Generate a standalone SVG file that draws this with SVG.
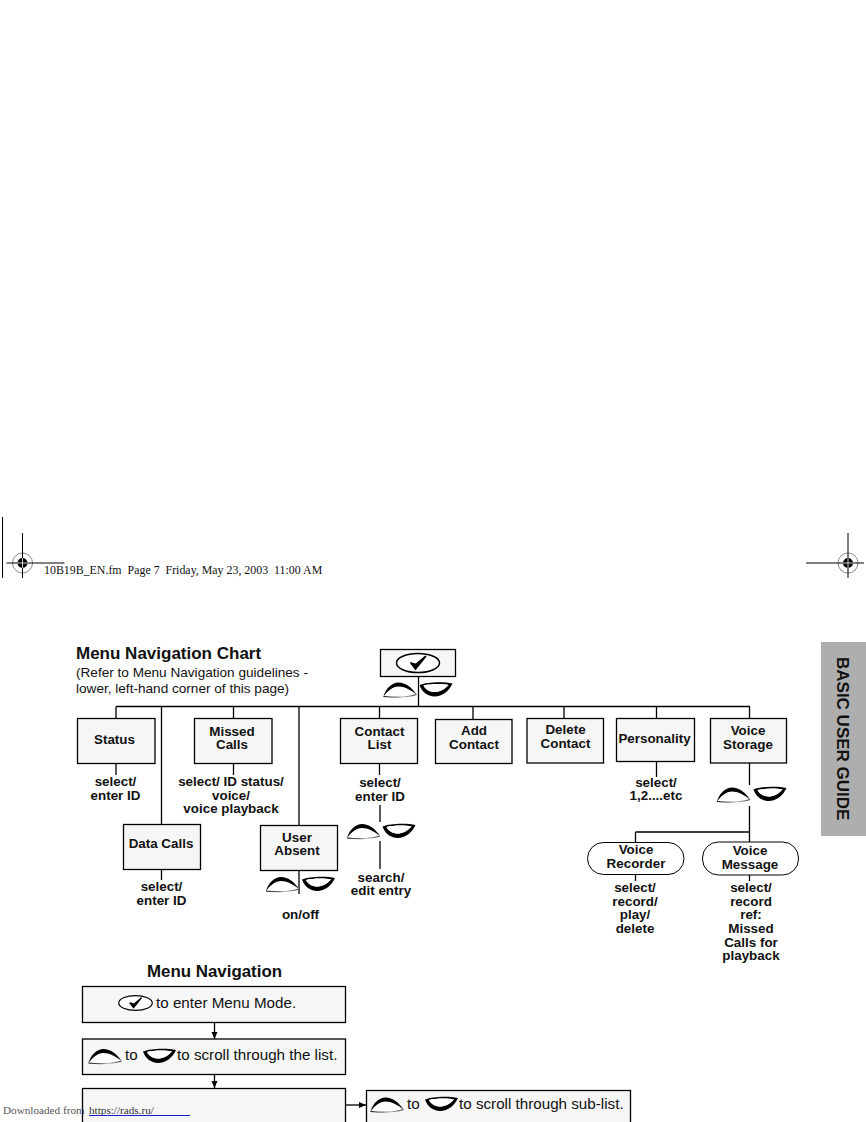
<svg xmlns="http://www.w3.org/2000/svg" width="866" height="1122" viewBox="0 0 866 1122">
<style>
text{font-family:"Liberation Sans",Arial,sans-serif;fill:#111}
.n{font-weight:700;font-size:13.4px;text-anchor:middle}
.b{fill:#f6f6f6;stroke:#000;stroke-width:1.3}
.l{fill:none;stroke:#000;stroke-width:1.3}
.c{fill:none;stroke:#000;stroke-width:1}
.g{font-size:13.6px}
.nav{font-size:15.2px}
.s{font-family:"Liberation Serif","Times New Roman",serif;font-size:11.9px}
.d{font-family:"Liberation Serif","Times New Roman",serif;font-size:11.2px}
</style>
<defs>
<linearGradient id="fade" x1="0" x2="1" y1="0" y2="0"><stop offset="0" stop-color="#000"/><stop offset=".6" stop-color="#bbb"/><stop offset="1" stop-color="#333"/></linearGradient>
<g id="up"><path d="M0 14.500C2 7 8 .5 15 .5C22 .5 29 6 33 12.500C25 15.500 8 15.500 0 14.500Z" fill="#fff"/><path d="M0 14.500C2 7 8 .5 15 .5C22 .5 29 6 33 12.500C27 8 21 4.500 15 4.500C9 4.500 4 9 0 14.500Z" fill="#000"/><path d="M0 14.500C10 15.500 23 15.500 33 12.500" fill="none" stroke="url(#fade)" stroke-width="1.200"/></g>
<g id="down"><path fill-rule="evenodd" d="M0 3.500C8 0 25 0 33 2C30 9 23 15 15 15C8 15 2 10 0 3.500ZM4 4C10 2.500 22 2 29 3.500C25 8 20 10.500 15 10.500C10 10.500 6 8 4 4Z" fill="#000"/><path d="M4 4C10 2.500 22 2 29 3.500C25 8 20 10.500 15 10.500C10 10.500 6 8 4 4Z" fill="#fff"/></g>
<g id="ok"><ellipse cx="0" cy="0" rx="21.500" ry="9.500" fill="#fff" stroke="#000" stroke-width="1.500"/><path d="M-7 0L-2.500 6L7.500 -6.500L-2 1.500Z" fill="#000" stroke="#000" stroke-width="1.800" stroke-linejoin="round"/></g>
<g id="reg"><circle r="10" fill="none" stroke="#888" stroke-width="1"/><circle r="5" fill="#000"/><path d="M-16 0H42M0 -30V15" stroke="#000" stroke-width="1" fill="none"/><path d="M-5 0H5M0 -5V5" stroke="#fff" stroke-width="0.800"/></g>
<marker id="ah" markerWidth="8" markerHeight="8" refX="7" refY="4" orient="auto" markerUnits="userSpaceOnUse"><path d="M0 1L7 4L0 7Z" fill="#000"/></marker>
</defs>

<g id="print-marks">
<path d="M2.500 517V578" class="c"/>
<use href="#reg" x="22.500" y="563"/>
<use href="#reg" x="848" y="563" transform="translate(1696 0) scale(-1 1)"/>
<text class="s" x="44" y="574" xml:space="preserve">10B19B_EN.fm  Page 7  Friday, May 23, 2003  11:00 AM</text>
</g>

<g id="side-tab"><rect x="821" y="642" width="45" height="194" fill="#aeaeae"/><text transform="translate(836.500 657) rotate(90)" font-weight="700" font-size="17px">BASIC USER GUIDE</text></g>

<text x="76" y="659" font-weight="700" font-size="17px">Menu Navigation Chart</text>
<text class="g" x="76" y="677">(Refer to Menu Navigation guidelines -</text>
<text class="g" x="76" y="693">lower, left-hand corner of this page)</text>

<g id="connectors">
<path class="l" d="M418.500 676V706.500M116 706.500H750M116 706.500V718M233.500 706.500V718M379.500 706.500V718M473 706.500V719M564 706.500V718M656.500 706.500V718M749.500 706.500V718M161.500 706.500V824M299 706.500V825"/>
<path class="l" d="M116 763V775M233.500 763V775M379.500 763V775M380 805V822M380 841V869M656.500 761V777M749.500 763V785M749.500 806V842M635.500 832H750M635.500 832V843M635.500 874V881M749.500 875V881M161.500 869V880M299 870V894"/>
<path class="l" d="M214.500 1022V1039" marker-end="url(#ah)"/>
<path class="l" d="M214.500 1074V1088" marker-end="url(#ah)"/>
<path class="l" d="M346 1105H366" marker-end="url(#ah)"/>
</g>

<g id="start"><rect class="b" x="380.500" y="649.500" width="75" height="27"/><use href="#ok" x="418" y="663"/></g>
<use href="#up" x="383.500" y="682"/><use href="#down" x="419.500" y="681.500"/>

<g id="status"><rect class="b" x="77.500" y="718.500" width="77.500" height="45"/><text class="n" x="114.500" y="744">Status</text></g>
<g id="missed"><rect class="b" x="194.500" y="718.500" width="77.500" height="45"/><text class="n" x="232" y="736">Missed</text><text class="n" x="232" y="749">Calls</text></g>
<g id="contact"><rect class="b" x="340.500" y="718.500" width="77" height="45"/><text class="n" x="379.500" y="736">Contact</text><text class="n" x="379.500" y="749">List</text></g>
<g id="add"><rect class="b" x="435.500" y="719.500" width="76.500" height="44"/><text class="n" x="474" y="735">Add</text><text class="n" x="474" y="749">Contact</text></g>
<g id="delete"><rect class="b" x="527" y="718.500" width="76.500" height="44.500"/><text class="n" x="565.500" y="734">Delete</text><text class="n" x="565.500" y="748">Contact</text></g>
<g id="personality"><rect class="b" x="616.500" y="718.500" width="78" height="43"/><text class="n" x="654.500" y="743">Personality</text></g>
<g id="storage"><rect class="b" x="710.500" y="718.500" width="76" height="44.500"/><text class="n" x="748" y="735">Voice</text><text class="n" x="748" y="749">Storage</text></g>
<g id="data"><rect class="b" x="123.500" y="824.500" width="77" height="45"/><text class="n" x="161" y="848">Data Calls</text></g>
<g id="absent"><rect class="b" x="260.500" y="825.500" width="77" height="45"/><text class="n" x="297" y="842">User</text><text class="n" x="297" y="855">Absent</text></g>
<g id="recorder"><rect x="587.500" y="842.500" width="96.500" height="32" rx="16" fill="#fff" stroke="#000" stroke-width="1"/><text class="n" x="636" y="854">Voice</text><text class="n" x="636" y="868">Recorder</text></g>
<g id="message"><rect x="702.500" y="842" width="96" height="33" rx="16" fill="#fff" stroke="#000" stroke-width="1"/><text class="n" x="750" y="855">Voice</text><text class="n" x="750" y="869">Message</text></g>

<g id="labels">
<text class="n" x="115.500" y="786">select/</text><text class="n" x="115.500" y="800">enter ID</text>
<text class="n" x="231" y="786">select/ ID status/</text><text class="n" x="231" y="800">voice/</text><text class="n" x="231" y="813">voice playback</text>
<text class="n" x="380" y="801">enter ID</text><text class="n" x="380" y="787">select/</text>
<text class="n" x="381" y="882">search/</text><text class="n" x="381" y="895">edit entry</text>
<text class="n" x="161.500" y="891">select/</text><text class="n" x="161.500" y="905">enter ID</text>
<text class="n" x="300.500" y="919">on/off</text>
<text class="n" x="656" y="787">select/</text><text class="n" x="656" y="800">1,2....etc</text>
<text class="n" x="635" y="892">select/</text><text class="n" x="635" y="906">record/</text><text class="n" x="635" y="919">play/</text><text class="n" x="635" y="933">delete</text>
<text class="n" x="751" y="892">select/</text><text class="n" x="751" y="906">record</text><text class="n" x="751" y="919">ref:</text><text class="n" x="751" y="933">Missed</text><text class="n" x="751" y="947">Calls for</text><text class="n" x="751" y="960">playback</text>
</g>
<use href="#up" x="347" y="823.500"/><use href="#down" x="382.500" y="823"/>
<use href="#up" x="266" y="876.500"/><use href="#down" x="302" y="876"/>
<use href="#up" x="717" y="787"/><use href="#down" x="753.500" y="786"/>

<text x="214.500" y="977" font-weight="700" font-size="16.900px" text-anchor="middle">Menu Navigation</text>
<g id="nav1"><rect class="b" x="82.500" y="986.500" width="263" height="36"/><use href="#ok" transform="translate(135.500 1003) scale(.78)"/><text class="nav" x="156" y="1008">to enter Menu Mode.</text></g>
<g id="nav2"><rect class="b" x="82.500" y="1039" width="263" height="35.500"/><use href="#up" x="88.500" y="1048.500"/><text class="nav" x="125" y="1060">to</text><use href="#down" x="143" y="1048"/><text class="nav" x="177" y="1060">to scroll through the list.</text></g>
<g id="nav3"><rect class="b" x="82.500" y="1088.500" width="263" height="40"/></g>
<g id="nav4"><rect class="b" x="366.500" y="1090.500" width="264" height="40"/><use href="#up" x="370.500" y="1097"/><text class="nav" x="407" y="1109">to</text><use href="#down" x="425" y="1096"/><text class="nav" x="459" y="1109">to scroll through sub-list.</text></g>

<g id="download"><text class="d" x="3" y="1114" style="fill:#555">Downloaded from</text><text class="d" x="89" y="1114" style="fill:#333">https://rads.ru/</text><path d="M89 1115.500H190" stroke="#1a1ad0" stroke-width="1"/></g>
</svg>
